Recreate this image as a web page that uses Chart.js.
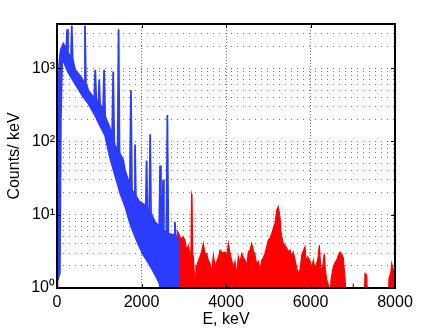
<!DOCTYPE html>
<html>
<head>
<meta charset="utf-8">
<title>Spectrum</title>
<script src="https://cdn.jsdelivr.net/npm/chart.js@4.4.1/dist/chart.umd.min.js"></script>
<style>
  html, body { margin: 0; padding: 0; background: #fff; }
  #wrap { position: relative; width: 436px; height: 328px; }
</style>
</head>
<body>
<div id="wrap"><canvas id="spectrumChart"></canvas></div>
<script>
/**
 * Gamma spectrum, counts per keV on a log axis
 */

// Axis ticks
const xTicks = [0, 2000, 4000, 6000, 8000];
const yMajorTicks = [1, 10, 100, 1000];
const yTickLabels = ['10\u2070', '10\u00b9', '10\u00b2', '10\u00b3'];
const yMinorSteps = [1, 2, 3, 4, 5, 6, 7, 8, 9];
const yMax = 4000;

// Blue spectrum, upper edge of the noisy band (keV, counts/keV)
const blueUpperE = [20, 35, 55, 90, 150, 200, 220, 240, 260, 280, 330, 350, 370, 426, 500, 585, 640, 662, 685,
  741, 820, 880, 905, 930, 980, 1000, 1020, 1090, 1115, 1140, 1180, 1240, 1305, 1330, 1355, 1373, 1435,
  1458, 1480, 1570, 1610, 1700, 1725, 1750, 1775, 1825, 1846, 1867, 1950, 2083, 2100, 2120, 2140, 2185,
  2205, 2225, 2320, 2420, 2440, 2460, 2490, 2510, 2530, 2556, 2590, 2612, 2635, 2700, 2770, 2790, 2810,
  2870, 2900];
const blueUpperCounts = [1.3, 300, 1200, 1800, 2150, 1900, 1750, 3400, 1650, 1550, 1400, 3800, 1350, 950, 850, 720, 650, 3800, 620,
  495, 430, 380, 950, 370, 330, 700, 320, 270, 950, 220, 190, 160, 120, 900, 100, 88, 75,
  3400, 70, 55, 40, 28, 24, 500, 22, 19, 90, 18, 15, 13.5, 12, 55, 12, 11,
  125, 10.5, 7.9, 7, 47, 6.8, 6.3, 30, 6.1, 5.8, 5.6, 230, 5.5, 5.4, 5.3, 8, 5.2,
  4.5, 4.2];

// Blue spectrum, lower edge of the band
const blueLowerE = [20, 70, 95, 125, 145, 250, 426, 600, 734, 900, 1000, 1136, 1250, 1373, 1500, 1610, 1700,
  1768, 1900, 2005, 2060, 2123, 2250, 2360, 2420, 2478, 2900];
const blueLowerCounts = [1.3, 1.6, 200, 1200, 1270, 900, 610, 420, 330, 225, 170, 120, 60, 34, 19, 13, 8.5,
  6.5, 4.2, 3.1, 2.7, 2.4, 1.8, 1.37, 1.15, 0.8, 0.8];

// Red spectrum above 2.8 MeV
const redE = [2840, 2880, 2911, 2950, 2982, 3030, 3070, 3108, 3150, 3170, 3185, 3195, 3210, 3226, 3260, 3280, 3290,
  3307, 3350, 3385, 3425, 3463, 3500, 3543, 3580, 3621, 3660, 3700, 3740, 3780, 3820, 3858, 3920, 3977,
  4020, 4055, 4095, 4135, 4175, 4213, 4250, 4291, 4330, 4372, 4410, 4450, 4490, 4528, 4570, 4609, 4650,
  4687, 4725, 4765, 4800, 4845, 4885, 4923, 4960, 5001, 5040, 5082, 5120, 5160, 5200, 5238, 5278, 5300,
  5319, 5357, 5400, 5437, 5475, 5515, 5555, 5593, 5635, 5674, 5710, 5752, 5792, 5830, 5870, 5900, 5934,
  5989, 6030, 6067, 6110, 6147, 6180, 6209, 6240, 6266, 6300, 6327, 6350, 6384, 6422, 6455, 6486, 6540,
  6580, 6621, 6660, 6699, 6740, 6777, 6817, 6857, 6990, 7013, 7035, 7270, 7290, 7330, 7350, 7840, 7858,
  7900, 7922, 7960, 8000];
const redCounts = [6.2, 5.5, 5.0, 4.6, 5.0, 4.5, 3.2, 3.8, 2.8, 3.2, 19, 18, 3.0, 2.67, 1.3, 0.5, 2.0,
  1.95, 2.4, 2.67, 3.2, 4.05, 3.0, 2.96, 2.4, 2.17, 1.6, 2.8, 2.0, 2.3, 2.6, 3.3, 3.0, 3.1,
  2.7, 4.05, 3.0, 2.4, 1.9, 2.3, 1.5, 2.67, 2.2, 2.96, 2.6, 2.4, 2.0, 3.1, 3.3, 4.05, 3.2,
  2.8, 2.1, 2.3, 1.7, 2.4, 2.6, 2.96, 3.6, 4.5, 4.8, 5.5, 6.5, 7.6, 11.5, 12.8, 9.3, 6.0,
  5.0, 4.05, 3.8, 3.5, 3.1, 3.3, 2.67, 3.1, 2.4, 1.85, 1.6, 1.75, 2.8, 3.2, 3.65, 2.2, 2.67,
  2.3, 1.9, 2.4, 1.8, 2.17, 2.6, 3.85, 2.0, 1.6, 2.2, 2.96, 1.8, 1.3, 1.1, 0.6, 1.3, 1.95,
  2.2, 2.4, 2.8, 3.1, 2.9, 2.55, 1.35, 0.6, 0.6, 1.15, 0.6, 0.6, 1.58, 1.5, 0.6, 0.6, 1.35,
  1.6, 2.17, 1.75, 1.6];

// Red spectrum, rising edge near zero (mostly hidden under the blue one)
const redLowE = [5, 12, 22, 40, 70, 110, 160];
const redLowCounts = [0.5, 1.8, 60, 700, 1500, 1850, 2100];

const colors = {
  blue: '#2b3cff',
  red: '#ff0000',
  grid: 'rgba(70, 70, 70, 0.75)',
  text: '#000'
};

const fontFamily = "'Liberation Sans', Arial, Helvetica, sans-serif";

function toPoints(energies, counts) {
  return energies.map((e, i) => ({ x: e, y: counts[i] }));
}

/**
 * Box round the plot area with inward ticks
 */
const axesBox = {
  id: 'axesBox',
  afterDatasetsDraw(chart) {
    const { ctx, chartArea: a, scales: { x, y } } = chart;
    ctx.save();
    ctx.strokeStyle = '#000';
    ctx.lineWidth = 1;
    ctx.beginPath();
    xTicks.forEach(v => {
      const px = Math.round(x.getPixelForValue(v)) + 0.5;
      ctx.moveTo(px, a.bottom); ctx.lineTo(px, a.bottom - 4);
      ctx.moveTo(px, a.top); ctx.lineTo(px, a.top + 4);
    });
    yMajorTicks.forEach(v => {
      const py = Math.round(y.getPixelForValue(v)) + 0.5;
      ctx.moveTo(a.left, py); ctx.lineTo(a.left + 4, py);
      ctx.moveTo(a.right, py); ctx.lineTo(a.right - 4, py);
    });
    ctx.stroke();
    ctx.lineWidth = 2;
    ctx.strokeRect(a.left, a.top, a.right - a.left, a.bottom - a.top);
    ctx.restore();
  }
};

const ctx = document.getElementById('spectrumChart');

new Chart(ctx, {
  type: 'line',
  data: {
    datasets: [
      {
        label: 'blue upper',
        data: toPoints(blueUpperE, blueUpperCounts),
        borderColor: colors.blue,
        backgroundColor: colors.blue,
        borderWidth: 1.8,
        fill: '+1',
        order: 0
      },
      {
        label: 'blue lower',
        data: toPoints(blueLowerE, blueLowerCounts),
        borderColor: colors.blue,
        borderWidth: 1.5,
        fill: false,
        order: 0
      },
      {
        label: 'red',
        data: toPoints(redE, redCounts),
        borderColor: colors.red,
        backgroundColor: colors.red,
        borderWidth: 1.2,
        fill: 'start',
        order: 1
      },
      {
        label: 'red low',
        data: toPoints(redLowE, redLowCounts),
        borderColor: colors.red,
        borderWidth: 1.2,
        fill: false,
        order: 1
      }
    ]
  },
  options: {
    responsive: true,
    maintainAspectRatio: false,
    animation: false,
    events: [],
    layout: {
      padding: { left: 0, top: 24, right: 41, bottom: 0 }
    },
    elements: {
      point: { radius: 0 },
      line: { tension: 0 }
    },
    plugins: {
      legend: { display: false },
      tooltip: { enabled: false }
    },
    scales: {
      x: {
        type: 'linear',
        min: 0,
        max: 8000,
        afterFit: scale => { scale.height = 40; },
        afterBuildTicks: scale => { scale.ticks = xTicks.map(v => ({ value: v })); },
        grid: {
          color: colors.grid,
          drawTicks: false
        },
        border: { display: false, dash: [1, 2] },
        ticks: {
          color: colors.text,
          padding: 5,
          maxRotation: 0,
          font: { family: fontFamily, size: 16 },
          callback: value => String(value)
        },
        title: {
          display: true,
          text: 'E, keV',
          color: colors.text,
          padding: { top: 0, bottom: 0 },
          font: { family: fontFamily, size: 16, lineHeight: 1 }
        }
      },
      y: {
        type: 'logarithmic',
        min: 1,
        max: yMax,
        afterFit: scale => { scale.width = 57; },
        afterBuildTicks: scale => {
          const ticks = [];
          yMajorTicks.forEach(d => {
            yMinorSteps.forEach(m => {
              if (d * m <= yMax) ticks.push({ value: d * m });
            });
          });
          scale.ticks = ticks;
        },
        grid: {
          color: colors.grid,
          drawTicks: false
        },
        border: { display: false, dash: [1, 5] },
        ticks: {
          color: colors.text,
          padding: 2,
          autoSkip: false,
          font: { family: fontFamily, size: 16 },
          callback: value => {
            const i = yMajorTicks.indexOf(value);
            return i >= 0 ? yTickLabels[i] : '';
          }
        },
        title: {
          display: true,
          text: 'Counts/ keV',
          color: colors.text,
          padding: { top: 7, bottom: 0 },
          font: { family: fontFamily, size: 16, lineHeight: 1 }
        }
      }
    }
  },
  plugins: [axesBox]
});
</script>
</body>
</html>
